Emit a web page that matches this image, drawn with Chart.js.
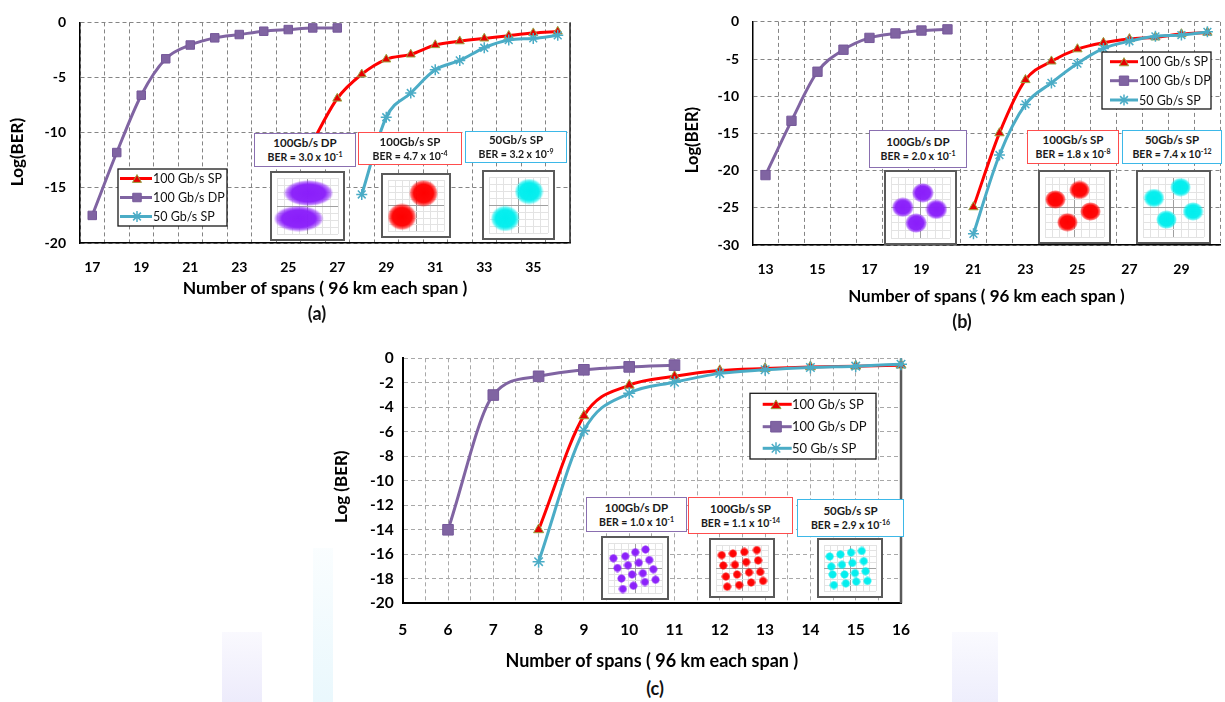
<!DOCTYPE html>
<html>
<head>
<meta charset="utf-8">
<title>Log(BER) versus number of spans</title>
<script src="https://cdn.jsdelivr.net/npm/chart.js@4.4.1/dist/chart.umd.min.js"></script>
<style>
html,body{margin:0;padding:0;width:1225px;height:702px;overflow:hidden;background:#fff;}
body{position:relative;font-family:Lato,"Open Sans",sans-serif;}
canvas.main{position:absolute;display:block;}
.wm{position:absolute;opacity:0.55;}
.lbl{position:absolute;box-sizing:border-box;background:#fff;border:1.5px solid #000;display:flex;flex-direction:column;justify-content:center;align-items:center;font-weight:700;color:#1a1a1a;line-height:14px;white-space:nowrap;}
.lbl .t{font-size:11.5px;}
.lbl .b{font-size:10.5px;}
.lbl sup{font-size:7px;line-height:0;vertical-align:4px;}
.con{position:absolute;box-sizing:border-box;border:2px solid #5a5a5a;background:#fff;}
.con canvas{display:block;}
.cap{position:absolute;font-weight:700;font-size:18px;transform:translate(-50%,-50%);color:#111;}
</style>
</head>
<body>
<div class="wm" style="left:313px;top:548px;width:20px;height:154px;background:linear-gradient(#f6fcfe,#d8f2fb);"></div>
<div class="wm" style="left:222px;top:632px;width:40px;height:70px;background:linear-gradient(#f5f4fd,#dedbf8);"></div>
<div class="wm" style="left:952px;top:632px;width:46px;height:70px;background:linear-gradient(#f6f6fe,#e0e0fa);"></div>

<canvas id="chA" class="main" width="600" height="303" style="left:0px;top:0px"></canvas>
<canvas id="chB" class="main" width="553" height="311" style="left:675px;top:0px"></canvas>
<canvas id="chC" class="main" width="603" height="336" style="left:324px;top:340px"></canvas>
<div id="overlays"></div>
<div class="cap" style="left:317px;top:313px">(a)</div>
<div class="cap" style="left:962px;top:321px">(b)</div>
<div class="cap" style="left:655px;top:688px">(c)</div>

<script>
// ---------------- data ----------------
const catsA  = [17,18,19,20,21,22,23,24,25,26,27,28,29,30,31,32,33,34,35,36];
const aSP100 = [null,null,null,null,null,null,null,null,null,-10.8,-6.9,-4.7,-3.35,-2.9,-2.05,-1.7,-1.45,-1.2,-0.97,-0.82];
const aDP100 = [-17.5,-11.8,-6.6,-3.3,-2.05,-1.4,-1.1,-0.8,-0.65,-0.5,-0.5,null,null,null,null,null,null,null,null,null];
const aSP50  = [null,null,null,null,null,null,null,null,null,null,null,-15.6,-8.6,-6.4,-4.3,-3.45,-2.3,-1.6,-1.45,-1.17];

const catsB  = [13,14,15,16,17,18,19,20,21,22,23,24,25,26,27,28,29,30];
const bSP100 = [null,null,null,null,null,null,null,null,-24.9,-14.95,-7.8,-5.3,-3.66,-2.8,-2.3,-2.06,-1.64,-1.42];
const bDP100 = [-20.6,-13.3,-6.7,-3.74,-2.15,-1.55,-1.16,-1.0,null,null,null,null,null,null,null,null,null,null];
const bSP50  = [null,null,null,null,null,null,null,null,-28.5,-17.9,-11.1,-8.2,-5.6,-3.57,-2.6,-1.94,-1.77,-1.34];

const cSP100x = [8,9,10,11,12,13,14,15,16];
const cSP100y = [-14.0,-4.7,-2.2,-1.47,-1.0,-0.83,-0.7,-0.64,-0.56];
const cDP100x = [6,7,8,9,10,11];
const cDP100y = [-14.0,-3.0,-1.47,-0.94,-0.7,-0.56];
const cSP50x  = [8,9,10,11,12,13,14,15,16];
const cSP50y  = [-16.6,-5.9,-2.85,-1.95,-1.23,-0.94,-0.75,-0.64,-0.48];

const seriesNames = ['100 Gb/s SP','100 Gb/s DP','50 Gb/s SP'];
const insetTitles = ['100Gb/s DP','100Gb/s SP','50Gb/s SP'];
const berA = [['3.0','-1'],['4.7','-4'],['3.2','-9']];
const berB = [['2.0','-1'],['1.8','-8'],['7.4','-12']];
const berC = [['1.0','-1'],['1.1','-14'],['2.9','-16']];

// constellation cluster centres (normalised I/Q)
const conA_DP    = [[0.03,0.46],[-0.29,-0.45]];
const conA_SP100 = [[0.27,0.48],[-0.5,-0.44]];
const conA_SP50  = [[0.36,0.48],[-0.45,-0.48]];
const conB_DP    = [[0.08,0.48],[-0.6,0.01],[0.54,-0.06],[-0.15,-0.51]];
const conB_SP100 = [[0.17,0.57],[-0.65,0.25],[0.54,-0.15],[-0.24,-0.51]];
const conB_SP50  = [[0.23,0.66],[-0.64,0.3],[0.64,-0.15],[-0.23,-0.42]];
const conC_DP    = [[-0.80,0.39],[-0.36,0.47],[0.01,0.63],[0.39,0.74],[-0.65,0.0],[-0.26,0.11],[0.14,0.21],[0.53,0.32],
                    [-0.50,-0.42],[-0.11,-0.26],[0.29,-0.21],[0.68,-0.05],[-0.45,-0.84],[-0.06,-0.71],[0.37,-0.56],[0.76,-0.47]];
const conC_SP100 = [[-0.78,0.56],[-0.35,0.63],[0.09,0.70],[0.57,0.78],[-0.72,0.11],[-0.27,0.14],[0.16,0.26],[0.62,0.33],
                    [-0.62,-0.37],[-0.19,-0.28],[0.27,-0.19],[0.70,-0.17],[-0.57,-0.81],[-0.11,-0.74],[0.35,-0.63],[0.81,-0.56]];
const conC_SP50  = [[-0.78,0.5],[-0.37,0.59],[0.04,0.67],[0.45,0.74],[-0.72,0.06],[-0.31,0.14],[0.09,0.22],[0.53,0.3],
                    [-0.67,-0.28],[-0.21,-0.28],[0.19,-0.22],[0.60,-0.14],[-0.62,-0.74],[-0.16,-0.67],[0.24,-0.59],[0.67,-0.56]];

// ---------------- styles / helpers ----------------
Chart.defaults.font.family = 'Lato, "Open Sans", sans-serif';
Chart.defaults.color = '#000';

const C_RED = '#FF0000', C_PUR = '#8064A2', C_CYA = '#4BACC6';

function drawMarker(ctx, style, r, x, y) {
  ctx.beginPath();
  if (style === 'triangle') {
    for (let k = 0; k < 3; k++) {
      const a = -Math.PI / 2 + k * 2 * Math.PI / 3;
      const px = x + Math.cos(a) * r, py = y + Math.sin(a) * r + r * 0.25;
      k ? ctx.lineTo(px, py) : ctx.moveTo(px, py);
    }
    ctx.closePath(); ctx.fill(); ctx.stroke();
  } else if (style === 'rect') {
    const s = r * Math.SQRT1_2;
    ctx.rect(x - s, y - s, 2 * s, 2 * s); ctx.fill(); ctx.stroke();
  } else {
    for (let k = 0; k < 4; k++) {
      const a = k * Math.PI / 4;
      ctx.moveTo(x - Math.cos(a) * r, y - Math.sin(a) * r);
      ctx.lineTo(x + Math.cos(a) * r, y + Math.sin(a) * r);
    }
    ctx.stroke();
  }
}

const boxLegend = {
  id: 'boxLegend',
  afterDatasetsDraw(chart, args, o) {
    if (!o || !o.box) return;
    const ctx = chart.ctx;
    const [bx, by, bw, bh] = o.box;
    ctx.save();
    ctx.setLineDash([]);
    ctx.fillStyle = '#fff';
    ctx.fillRect(bx, by, bw, bh);
    ctx.lineWidth = 1.3; ctx.strokeStyle = '#1a1a1a';
    ctx.strokeRect(bx, by, bw, bh);
    ctx.font = o.font;
    ctx.textBaseline = 'middle'; ctx.textAlign = 'left';
    chart.data.datasets.forEach((ds, i) => {
      const y = o.rows[i];
      ctx.lineWidth = ds.borderWidth; ctx.strokeStyle = ds.borderColor;
      ctx.beginPath(); ctx.moveTo(o.line[0], y); ctx.lineTo(o.line[1], y); ctx.stroke();
      ctx.fillStyle = ds.pointBackgroundColor; ctx.strokeStyle = ds.pointBorderColor;
      ctx.lineWidth = ds.pointBorderWidth;
      drawMarker(ctx, ds.pointStyle, ds.pointRadius, o.marker, y);
      ctx.fillStyle = '#111';
      ctx.fillText(ds.label, o.text, y + 0.5);
    });
    ctx.restore();
  }
};

const yTitle = {
  id: 'yTitle',
  afterDraw(chart, args, o) {
    if (!o || !o.text) return;
    const ctx = chart.ctx;
    ctx.save();
    ctx.translate(o.x, o.y);
    ctx.rotate(-Math.PI / 2);
    ctx.font = o.font; ctx.fillStyle = '#000';
    ctx.textAlign = 'center'; ctx.textBaseline = 'middle';
    ctx.fillText(o.text, 0, 0);
    ctx.restore();
  }
};

const frame = {
  id: 'frame',
  beforeDatasetsDraw(chart, args, o) {
    if (!o || !o.width) return;
    const {ctx, chartArea: a} = chart;
    ctx.save();
    ctx.setLineDash([]);
    ctx.strokeStyle = o.color; ctx.lineWidth = o.width;
    ctx.beginPath(); ctx.moveTo(a.right, a.top); ctx.lineTo(a.right, a.bottom); ctx.stroke();
    ctx.restore();
  }
};

function dsSP100(data, r) {
  return {label: seriesNames[0], data, order: 2, borderColor: C_RED, backgroundColor: C_RED, borderWidth: 3,
    pointStyle: 'triangle', pointRadius: r, pointBackgroundColor: '#E60000', pointBorderColor: '#98A444',
    pointBorderWidth: 1, cubicInterpolationMode: 'monotone', clip: 12};
}
function dsDP100(data, r) {
  return {label: seriesNames[1], data, order: 1, borderColor: C_PUR, backgroundColor: C_PUR, borderWidth: 3,
    pointStyle: 'rect', pointRadius: r, pointBackgroundColor: C_PUR, pointBorderColor: '#76599a',
    pointBorderWidth: 1, cubicInterpolationMode: 'monotone', clip: 12};
}
function dsSP50(data, r) {
  return {label: seriesNames[2], data, order: 0, borderColor: C_CYA, backgroundColor: C_CYA, borderWidth: 3,
    pointStyle: 'star', pointRadius: r, pointBackgroundColor: C_CYA, pointBorderColor: C_CYA,
    pointBorderWidth: 1.5, cubicInterpolationMode: 'monotone', clip: 12};
}
const xy = (xs, ys) => xs.map((x, i) => ({x, y: ys[i]}));

function mainChart(id, o) {
  const gridDash = [4, 3];
  const xScale = {
    type: o.cat ? 'category' : 'linear',
    offset: !!o.cat,
    grid: {color: o.gridColor, lineWidth: 1, drawTicks: false, offset: !!o.cat},
    border: {display: true, color: '#000', width: o.axisW, dash: gridDash},
    ticks: {color: '#000', font: {size: o.tick, weight: 'bold'}, padding: o.xPad, autoSkip: false, maxRotation: 0,
      callback: o.xCallback},
    title: {display: true, text: 'Number of spans ( 96 km each span )', color: '#000',
      font: {size: o.titleSize, weight: 'bold'}, padding: {top: 0, bottom: 4}},
    afterFit: s => { s.height = o.xH; }
  };
  if (!o.cat) { xScale.min = o.xMin; xScale.max = o.xMax; xScale.ticks.stepSize = 0.5; }
  return new Chart(document.getElementById(id), {
    type: 'line',
    data: {labels: o.labels, datasets: o.datasets},
    options: {
      responsive: false, animation: false, devicePixelRatio: 1,
      layout: {padding: o.padding},
      plugins: {legend: {display: false}, tooltip: {enabled: false},
        boxLegend: o.legend, yTitle: o.yTitle, frame: o.frame},
      scales: {
        x: xScale,
        y: {
          min: o.yMin, max: 0,
          grid: {color: o.gridColor, lineWidth: 1, drawTicks: false},
          border: {display: true, color: '#000', width: o.axisW, dash: gridDash},
          ticks: {color: '#000', font: {size: o.tick, weight: 'bold'}, padding: o.yPad, stepSize: o.yStep},
          afterFit: s => { s.width = o.yW; }
        }
      }
    },
    plugins: [frame, boxLegend, yTitle]
  });
}

function oddLabel(val, idx) { return idx % 2 === 0 ? this.getLabelForValue(val) : ''; }

// ---------------- chart (a) ----------------
mainChart('chA', {
  cat: true, labels: catsA.map(String), xCallback: oddLabel,
  datasets: [dsSP100(aSP100, 5.2), dsDP100(aDP100, 6), dsSP50(aSP50, 5.5)],
  padding: {left: 0, top: 16, right: 30, bottom: 0},
  yW: 80, xH: 60, yMin: -20, yStep: 5, tick: 14, xPad: 16, yPad: 14, titleSize: 17.5,
  gridColor: '#858585', axisW: 1.5,
  frame: {color: '#222', width: 1.5},
  yTitle: {text: 'Log(BER)', x: 18, y: 152, font: 'bold 17px Lato, "Open Sans", sans-serif'},
  legend: {box: [118, 169, 109, 57], rows: [178.5, 197.5, 216.5], line: [120, 152], marker: 137, text: 153,
    font: '12.5px Lato, "Open Sans", sans-serif'}
});

// ---------------- chart (b) ----------------
mainChart('chB', {
  cat: true, labels: catsB.map(String), xCallback: oddLabel,
  datasets: [dsSP100(bSP100, 5.4), dsDP100(bDP100, 6.6), dsSP50(bSP50, 5.5)],
  padding: {left: 0, top: 12, right: 0, bottom: 0},
  yW: 77.5, xH: 66, yMin: -30, yStep: 5, tick: 14, xPad: 16, yPad: 13.5, titleSize: 17,
  gridColor: '#858585', axisW: 1.5,
  frame: null,
  yTitle: {text: 'Log(BER)', x: 18, y: 140, font: 'bold 16.5px Lato, "Open Sans", sans-serif'},
  legend: {box: [427, 52, 109, 57], rows: [61.7, 80.7, 100], line: [435, 463], marker: 449, text: 464,
    font: '12.5px Lato, "Open Sans", sans-serif'}
});

// ---------------- chart (c) ----------------
mainChart('chC', {
  cat: false, labels: undefined, xMin: 5, xMax: 16,
  xCallback: v => Number.isInteger(v) ? String(v) : '',
  datasets: [dsSP100(xy(cSP100x, cSP100y), 5.8), dsDP100(xy(cDP100x, cDP100y), 7.5), dsSP50(xy(cSP50x, cSP50y), 6)],
  padding: {left: 0, top: 14, right: 20, bottom: 0},
  yW: 78.7, xH: 72.7, yMin: -20, yStep: 2, tick: 15.5, xPad: 17, yPad: 9, titleSize: 18,
  gridColor: '#a8a8a8', axisW: 2,
  frame: {color: '#5a5a5a', width: 2.5},
  yTitle: {text: 'Log (BER)', x: 17.7, y: 146.7, font: 'bold 17px Lato, "Open Sans", sans-serif'},
  legend: {box: [426, 53.3, 126, 65.7], rows: [64.3, 86.7, 108.3], line: [438.7, 467.7], marker: 452, text: 468,
    font: '13px Lato, "Open Sans", sans-serif'}
});

// ---------------- insets ----------------
function blob(rgb, w, h) {
  const c = document.createElement('canvas');
  c.width = Math.ceil(w); c.height = Math.ceil(h);
  const g = c.getContext('2d');
  g.translate(c.width / 2, c.height / 2);
  g.scale(w / 2, h / 2);
  const grad = g.createRadialGradient(0, 0, 0, 0, 0, 1);
  const [r, gg, b] = rgb;
  grad.addColorStop(0, `rgba(${r},${gg},${b},1)`);
  grad.addColorStop(0.68, `rgba(${r},${gg},${b},0.97)`);
  grad.addColorStop(0.88, `rgba(${r},${gg},${b},0.55)`);
  grad.addColorStop(1, `rgba(${r},${gg},${b},0)`);
  g.fillStyle = grad;
  g.beginPath(); g.arc(0, 0, 1, 0, Math.PI * 2); g.fill();
  return c;
}

const overlays = document.getElementById('overlays');
function label(rect, color, title, ber) {
  const d = document.createElement('div');
  d.className = 'lbl';
  d.style.cssText = `left:${rect[0]}px;top:${rect[1]}px;width:${rect[2]}px;height:${rect[3]}px;border-color:${color}`;
  d.innerHTML = `<div class="t">${title}</div><div class="b">BER = ${ber[0]} x 10<sup>${ber[1]}</sup></div>`;
  overlays.appendChild(d);
}
function constellation(rect, pts, rgb, bw, bh) {
  const d = document.createElement('div');
  d.className = 'con';
  d.style.cssText = `left:${rect[0]}px;top:${rect[1]}px;width:${rect[2]}px;height:${rect[3]}px`;
  const cv = document.createElement('canvas');
  cv.width = rect[2] - 4; cv.height = rect[3] - 4;
  d.appendChild(cv);
  overlays.appendChild(d);
  const gridCol = c => (c.tick && c.tick.value === 0) ? '#a0a0a0' : '#e3e3e3';
  new Chart(cv, {
    type: 'scatter',
    data: {datasets: [{data: pts.map(p => ({x: p[0], y: p[1]})), pointStyle: blob(rgb, bw, bh), pointRadius: 3, clip: false}]},
    options: {
      responsive: false, animation: false, devicePixelRatio: 1,
      layout: {padding: 0},
      plugins: {legend: {display: false}, tooltip: {enabled: false}},
      scales: {
        x: {type: 'linear', min: -1, max: 1, ticks: {display: false, stepSize: 0.25}, grid: {drawTicks: false, color: gridCol},
          border: {display: false}, afterFit: s => { s.height = 0; }},
        y: {type: 'linear', min: -1, max: 1, ticks: {display: false, stepSize: 0.25}, grid: {drawTicks: false, color: gridCol},
          border: {display: false}, afterFit: s => { s.width = 0; }}
      }
    }
  });
}

const LB = ['#8A6FB0', '#FF4D4D', '#3DB8E8'];
const RGB_P = [138, 30, 250], RGB_R = [255, 0, 0], RGB_C = [0, 238, 238];

// (a)
[[254,133,102,34],[358,132,104,33],[465,131,102,32]].forEach((r, i) => label(r, LB[i], insetTitles[i], berA[i]));
constellation([270,171,75,70], conA_DP, RGB_P, 50, 26);
constellation([381,173,70,65], conA_SP100, RGB_R, 29, 27);
constellation([482,170,73,70], conA_SP50, RGB_C, 29, 26);
// (b)
[[869,130,98,38],[1027,130,92,34],[1122,130,100,34]].forEach((r, i) => label(r, LB[i], insetTitles[i], berB[i]));
constellation([884,170,73,75], conB_DP, RGB_P, 22, 20);
constellation([1038,170,73,74], conB_SP100, RGB_R, 21, 19);
constellation([1136,170,75,74], conB_SP50, RGB_C, 21, 19);
// (c)
[[586,497,101,35],[688,497,105,37],[797,499,107,38]].forEach((r, i) => label(r, LB[i], insetTitles[i], berC[i]));
constellation([601,536,68,64], conC_DP, RGB_P, 9, 9);
constellation([709,538,66,60], conC_SP100, RGB_R, 9, 9);
constellation([817,538,66,60], conC_SP50, RGB_C, 9, 9);
</script>
</body>
</html>
